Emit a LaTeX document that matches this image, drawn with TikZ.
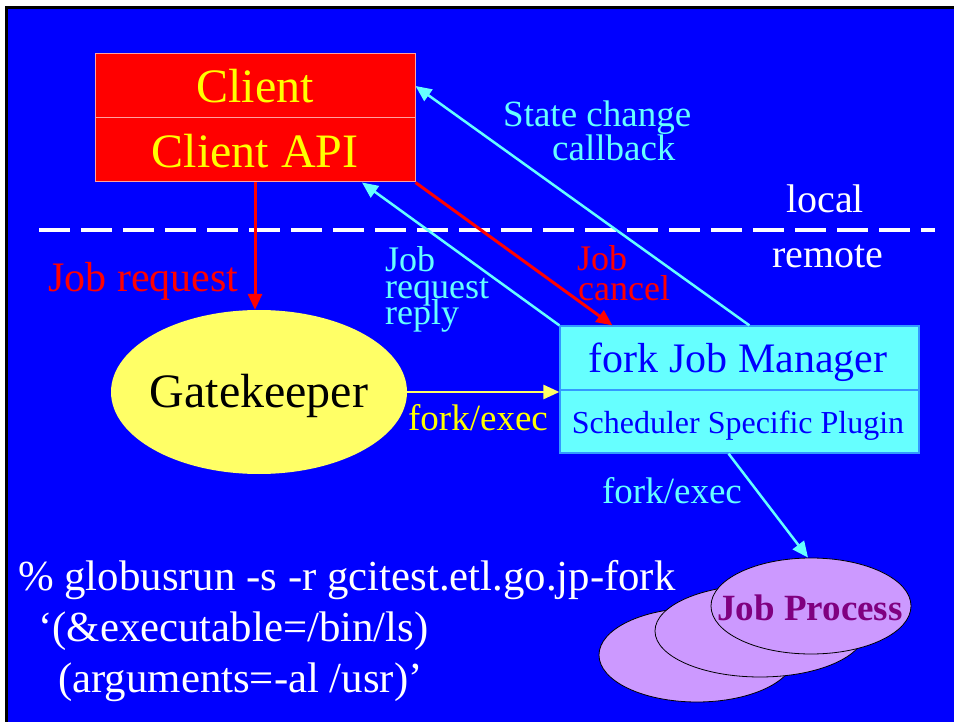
\documentclass[tikz,border=0pt]{standalone}
\usepackage{fontspec}
\setmainfont{Liberation Serif}
\usetikzlibrary{arrows.meta,shapes.geometric}

\definecolor{slideblue}{HTML}{0000FF}
\definecolor{clientred}{HTML}{FF0000}
\definecolor{clientedge}{HTML}{FFA0A0}
\definecolor{labelyellow}{HTML}{FFFF00}
\definecolor{gatefill}{HTML}{FFFF66}
\definecolor{jmcyan}{HTML}{66FFFF}
\definecolor{jmrule}{HTML}{3399FF}
\definecolor{procfill}{HTML}{CC99FF}
\definecolor{proctext}{HTML}{800080}

\begin{document}
\begin{tikzpicture}[x=1pt,y=-1pt,
  fsz/.style={font=\fontsize{#1}{#1}\selectfont},
  txt/.style={inner sep=0pt,anchor=base},
  txtl/.style={inner sep=0pt,anchor=base west},
  clientbox/.style={rectangle,draw=clientedge,fill=clientred,line width=1pt,
    minimum width=320pt,minimum height=64pt,inner sep=0pt},
  jmbox/.style={rectangle,draw=jmrule,fill=jmcyan,line width=1.2pt,
    minimum width=359pt,inner sep=0pt},
  proc/.style={ellipse,draw=black,fill=procfill,line width=0.8pt,inner sep=0pt},
  tip/.style={-{Triangle[length=16pt,width=14pt]}},
  cyanarrow/.style={draw=jmcyan,line width=2.5pt,tip},
  redarrow/.style={draw=clientred,line width=3pt,tip},
  yelarrow/.style={draw=gatefill,line width=2.5pt,tip}]

\useasboundingbox (0,0) rectangle (954,722);

% slide frame and background
\fill[white] (0,0) rectangle (954,722);
\fill[black] (5,6) rectangle (954,722);
\fill[slideblue] (8,9) rectangle (954,722);

% local / remote boundary
\draw[white,line width=4pt,dash pattern=on 31pt off 11pt] (39,230) -- (935,230);
\node[txt,white,fsz=40] (local) at (825,213) {local};
\node[txt,white,fsz=40] (remote) at (828,268) {remote};

% client
\node[clientbox] (client) at (255,86) {};
\node[clientbox] (api) at (255,150) {};
\node[txt,labelyellow,fsz=48] (clientlbl) at (255,103) {Client};
\node[txt,labelyellow,fsz=48] (apilbl) at (255,168) {Client API};

% gatekeeper
\node[ellipse,fill=gatefill,minimum width=296pt,minimum height=164pt,inner sep=0pt]
  (gate) at (259,392) {};
\node[txt,black,fsz=48] (gatelbl) at (259,407) {Gatekeeper};

% job manager
\node[jmbox,minimum height=64pt] (jm) at (739.5,358) {};
\node[jmbox,minimum height=63pt] (plugin) at (739.5,421.5) {};
\node[txt,slideblue,fsz=42] (jmlbl) at (738,373) {fork Job Manager};
\node[txt,slideblue,fsz=32] (pluginlbl) at (738,433) {Scheduler Specific Plugin};

% job processes
\node[proc,minimum width=196pt,minimum height=94pt] (p1) at (697,655) {};
\node[proc,minimum width=210pt,minimum height=92pt] (p2) at (760,631) {};
\node[proc,minimum width=200pt,minimum height=96pt] (p3) at (811,606) {};
\node[txt,proctext,font={\fontsize{37}{37}\selectfont\bfseries}] (proclbl) at (810,620) {Job Process};

% connectors
\draw[redarrow] (api.south) -- (api.south |- gate.north);
\draw[redarrow] (api.south east) -- ([xshift=53pt]jm.north west);
\draw[cyanarrow] (jm.north west) -- ([xshift=107pt]api.south);
\draw[cyanarrow] ([xshift=190pt]jm.north west) -- (client.east);
\draw[yelarrow] (gate.east) -- (gate.east -| jm.south west);
\draw[cyanarrow] ([xshift=-11pt]plugin.south) -- ([xshift=-3pt]p3.north);

% connector labels
\node[txtl,clientred,fsz=42] (reqlbl) at (48,292) {Job request};
\node[txtl,jmcyan,fsz=37] (state1) at (503,127) {State change};
\node[txtl,jmcyan,fsz=37] (state2) at (552,161) {callback};
\node[txtl,jmcyan,fsz=36] (reply1) at (385,272) {Job};
\node[txtl,jmcyan,fsz=36] (reply2) at (385,299) {request};
\node[txtl,jmcyan,fsz=36] (reply3) at (385,325) {reply};
\node[txtl,clientred,fsz=36] (cancel1) at (577,271) {Job};
\node[txtl,clientred,fsz=36] (cancel2) at (578,301) {cancel};
\node[txt,labelyellow,fsz=37] (forklbl) at (478,430) {fork/exec};
\node[txt,jmcyan,fsz=37] (execlbl) at (672,503) {fork/exec};

% command line
\node[txtl,white,fsz=42.8] (cmd1) at (18,590) {\% globusrun -s -r gcitest.etl.go.jp-fork};
\node[txtl,white,fsz=42.8] (cmd2) at (38,641) {‘(\&executable=/bin/ls)};
\node[txtl,white,fsz=42.8] (cmd3) at (58,692) {(arguments=-al /usr)’};
\end{tikzpicture}
\end{document}
